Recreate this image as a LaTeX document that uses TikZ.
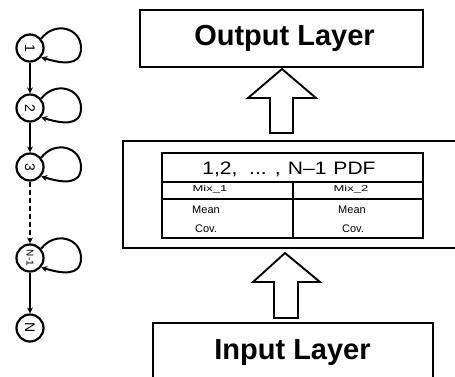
\documentclass[tikz,border=0pt]{standalone}
\usepackage{fontspec}
\setmainfont{Liberation Sans}
\usetikzlibrary{arrows.meta,calc}

\begin{document}
\begin{tikzpicture}[x=1pt,y=-1pt,
  layerbox/.style={draw, line width=1.9pt, inner sep=0pt},
  layertext/.style={inner sep=0pt, anchor=base, font=\fontsize{29}{31}\selectfont\bfseries},
  chainstate/.style={circle, draw, line width=2.2pt, inner sep=0pt,
    minimum width=27pt, minimum height=27pt,
    font=\fontsize{14}{14}\selectfont},
  flow/.style={line width=1.9pt, -{Stealth[length=6pt,width=6pt]}},
  selfloop/.style={line width=2pt, -{Stealth[length=6pt,width=6pt]}},
  bigarrow/.style={draw, line width=1.9pt, fill=white, line join=miter},
  celltext/.style={inner sep=0pt, anchor=base, font=\fontsize{11}{11}\selectfont},
]
\useasboundingbox (0,0) rectangle (455,376);

% ---- Markov chain of states ----
\node[chainstate] (c1) at (30,48) {\rotatebox{-90}{1}};
\node[chainstate] (c2) at (30,108) {\rotatebox{-90}{2}};
\node[chainstate] (c3) at (30,167) {\rotatebox{-90}{3}};
\node[chainstate] (c4) at (30,258) {\rotatebox{-90}{\fontsize{10}{10}\selectfont N-1}};
\node[chainstate] (c5) at (30,328) {\rotatebox{-90}{N}};

\foreach \c in {c1,c2,c3,c4}{
  \draw[selfloop] (\c.40) .. controls +(14,-18) and +(0,-20) .. ($(\c)+(51,0)$)
        .. controls +(0,19) and +(20,6) .. (\c.-40);
}
\draw[flow] (c1) -- (c2);
\draw[flow] (c2) -- (c3);
\draw[flow, dash pattern=on 5pt off 3pt] (c3) -- (c4);
\draw[flow] (c4) -- (c5);

% ---- layers ----
\node[layerbox, minimum width=283pt, minimum height=57pt] (out) at (281.5,38.5) {};
\node[layertext] (outtxt) at (284.5,45) {Output Layer};

\node[layerbox, minimum width=347pt, minimum height=107pt] (mid) at (296.5,194.5) {};

\node[layerbox, minimum width=280pt, minimum height=77pt] (in) at (293,361.5) {};
\node[layertext] (intxt) at (292.5,359.5) {Input Layer};

% ---- mixture table ----
\node[draw, line width=2.2pt, minimum width=261pt, minimum height=85pt, inner sep=0pt] (tab) at (292.5,195.5) {};
\coordinate (r1l) at (162,182); \coordinate (r1r) at (423,182);
\coordinate (r2l) at (162,199); \coordinate (r2r) at (423,199);
\coordinate (vt) at (293,182);  \coordinate (vb) at (293,238);
\draw[line width=1.8pt] (r1l) -- (r1r);
\draw[line width=1.8pt] (r2l) -- (r2r);
\draw[line width=1.8pt] (vt) -- (vb);

\node[celltext, font=\fontsize{18}{18}\selectfont, xscale=1.17] (pdf) at (289,174)
  {1,2,\hspace{10pt}...\hspace{7pt},\hspace{6pt}N\textendash1\hspace{6pt}PDF};
\node[celltext, font=\fontsize{13}{13}\selectfont, yscale=0.65] (mix1) at (210,191) {Mix\_1};
\node[celltext, font=\fontsize{13}{13}\selectfont, yscale=0.65] (mix2) at (351,191) {Mix\_2};
\node[celltext] (mean1) at (206,213) {Mean};
\node[celltext] (cov1) at (206,232) {Cov.};
\node[celltext] (mean2) at (352,213) {Mean};
\node[celltext] (cov2) at (353,232) {Cov.};

% ---- hollow block arrows between layers ----
\draw[bigarrow] (282,69) -- (316,98) -- (293,98) -- (293,133) -- (270,133) -- (270,98) -- (248,98) -- cycle;
\draw[bigarrow] (285,253) -- (320,282) -- (298,282) -- (298,318) -- (274,318) -- (274,282) -- (253,282) -- cycle;
\end{tikzpicture}
\end{document}
